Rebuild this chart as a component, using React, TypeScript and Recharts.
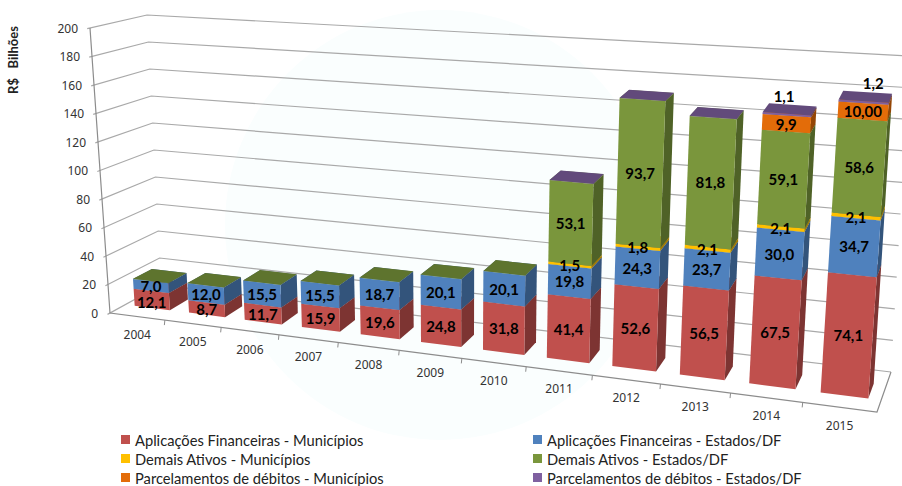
import React from 'react';
import { BarChart, Bar, XAxis, YAxis, Legend, LabelList, Customized } from 'recharts';

const years = ['2004', '2005', '2006', '2007', '2008', '2009', '2010', '2011', '2012', '2013', '2014', '2015'];
const aplicMunicipios = [12.1, 8.7, 11.7, 15.9, 19.6, 24.8, 31.8, 41.4, 52.6, 56.5, 67.5, 74.1];
const aplicEstados = [7.0, 12.0, 15.5, 15.5, 18.7, 20.1, 20.1, 19.8, 24.3, 23.7, 30.0, 34.7];
const demaisMunicipios = [0, 0, 0, 0, 0, 0, 0, 1.5, 1.8, 2.1, 2.1, 2.1];
const demaisEstados = [0.1, 0.1, 0.1, 0.1, 0.1, 0.1, 0.1, 53.1, 93.7, 81.8, 59.1, 58.6];
const parcMunicipios = [0, 0, 0, 0, 0, 0, 0, 0, 0, 0, 9.9, 10.0];
const parcEstados = [0, 0, 0, 0, 0, 0, 0, 0.1, 0.1, 0.1, 1.1, 1.2];
const yTicks = [0, 20, 40, 60, 80, 100, 120, 140, 160, 180, 200];

const chartData = years.map((ano, i) => ({
  ano,
  aplicMunicipios: aplicMunicipios[i],
  aplicEstados: aplicEstados[i],
  demaisMunicipios: demaisMunicipios[i],
  demaisEstados: demaisEstados[i],
  parcMunicipios: parcMunicipios[i],
  parcEstados: parcEstados[i],
}));

// the flat plot rect that recharts works in, unfolded to the 3D box below
const PLOT = { left: 100, top: 60, width: 700, height: 300 };
const AXIS_SIZE = 20;
const GRID = '#a9a9a9';
const FRONT = 0.3;
const BACK = 0.67;

const warp = (u: number) => u / (1.18 - 0.18 * u);
const mix = (a: number[], b: number[], t: number) => [a[0] + (b[0] - a[0]) * t, a[1] + (b[1] - a[1]) * t];

// s along the years, v up the value axis, w into the depth
const project = (u: number, v: number, w: number) => {
  const s = warp(u);
  const front = mix(mix([110, 313], [877, 412], s), mix([90, 28], [902, 79], s), v);
  const back = mix(mix([161, 285], [891, 372], s), mix([147, 15], [910, 56], s), v);
  return mix(front, back, w);
};
const toU = (x: number) => (x - PLOT.left) / PLOT.width;
const toV = (y: number) => 1 - (y - PLOT.top) / PLOT.height;
const pts = (list: number[][]) => list.map((p) => `${p[0].toFixed(1)},${p[1].toFixed(1)}`).join(' ');

const shade = (hex: string, k: number) => {
  const n = parseInt(hex.slice(1), 16);
  const c = [(n >> 16) & 255, (n >> 8) & 255, n & 255].map((x) => Math.round(x * k));
  return `rgb(${c[0]},${c[1]},${c[2]})`;
};

const Box3D = (props: any) => {
  const { x, y, width, height, fill } = props;
  if (!height || height <= 0) return null;
  const u0 = toU(x);
  const u1 = toU(x + width);
  const v0 = toV(y + height);
  const v1 = toV(y);
  return (
    <g>
      <polygon points={pts([project(u1, v0, FRONT), project(u1, v0, BACK), project(u1, v1, BACK), project(u1, v1, FRONT)])} fill={shade(fill, 0.65)} />
      <polygon points={pts([project(u0, v1, FRONT), project(u1, v1, FRONT), project(u1, v1, BACK), project(u0, v1, BACK)])} fill={shade(fill, 0.77)} />
      <polygon points={pts([project(u0, v0, FRONT), project(u1, v0, FRONT), project(u1, v1, FRONT), project(u0, v1, FRONT)])} fill={fill} />
    </g>
  );
};

const formatValue = (value: number) => (value === 10 ? '10,00' : value.toFixed(1).replace('.', ','));

// hand placed labels in the original
const labelNudge: Record<string, number[]> = {
  'aplicMunicipios-0': [0, 3],
  'parcEstados-10': [-8, 1],
  'parcEstados-11': [6, 1],
};

const makeLabel = (key: string) => (props: any) => {
  const { x, y, width, height, value, index } = props;
  if (!value || value < 0.5) return null;
  const above = key === 'parcEstados';
  const uc = toU(x + width / 2);
  const p = above
    ? project(uc, toV(y), (FRONT + BACK) / 2 + 0.15)
    : project(uc, toV(y + height / 2), FRONT);
  const nudge = labelNudge[`${key}-${index}`] || [0, 0];
  return (
    <text x={p[0] + nudge[0]} y={(above ? p[1] - 11 : p[1]) + nudge[1]} textAnchor="middle" dominantBaseline="central" fontFamily="Lato" fontWeight="bold" fontSize={15} fill="#000">
      {formatValue(value)}
    </text>
  );
};

const Walls = () => (
  <g fill="none" stroke={GRID} strokeWidth={1.2}>
    <circle cx={440} cy={225} r={215} fill="#fafefe" stroke="none" />
    {yTicks.map((t) => {
      const v = t / 200;
      return <polyline key={t} points={pts([mix(project(0, v, 0), project(0, v, 1), -0.05), project(0, v, 1), project(1, v, 1)])} />;
    })}
    <polyline points={pts([project(0, 1, 0), project(0, 0, 0), project(1, 0, 0), project(1, 0, 1)])} stroke="#8c8c8c" />
    <text transform="translate(18,60) rotate(-90)" textAnchor="middle" fontFamily="Lato" fontWeight="bold" fontSize={13} fill="#222" stroke="none" style={{ whiteSpace: 'pre' }}>
      {'R$   Bilhões'}
    </text>
  </g>
);

const YTick = (props: any) => {
  const p = project(0, toV(props.y), 0);
  return (
    <text x={p[0] - 12} y={p[1]} textAnchor="end" dominantBaseline="central" fontFamily="Noto Sans" fontSize={12} fill="#333">
      {props.payload.value}
    </text>
  );
};

const XTick = (props: any) => {
  const step = PLOT.width / years.length;
  const u = toU(props.x);
  const p = project(u, 0, 0);
  const mark = project(toU(props.x + step / 2), 0, 0);
  return (
    <g>
      {props.index < years.length - 1 && <line x1={mark[0]} y1={mark[1]} x2={mark[0] - 0.5} y2={mark[1] + 5} stroke="#8c8c8c" />}
      <text x={p[0]} y={p[1] + 18} textAnchor="middle" dominantBaseline="central" fontFamily="Noto Sans" fontSize={12} fill="#333">
        {props.payload.value}
      </text>
    </g>
  );
};

const renderLegend = ({ payload }: any) => (
  <div style={{ display: 'grid', gridTemplateColumns: '412px 360px', paddingLeft: 121, rowGap: 0 }}>
    {(payload || []).map((item: any) => (
      <div key={item.value} style={{ display: 'flex', alignItems: 'center', height: 19, fontFamily: 'Lato', fontSize: 14.7, color: '#222' }}>
        <span style={{ width: 9, height: 9, background: item.color, marginRight: 5 }} />
        {item.value}
      </div>
    ))}
  </div>
);

const series = [
  { key: 'aplicMunicipios', name: 'Aplicações Financeiras - Municípios', fill: '#C0504D' },
  { key: 'aplicEstados', name: 'Aplicações Financeiras - Estados/DF', fill: '#4F81BD' },
  { key: 'demaisMunicipios', name: 'Demais Ativos - Municípios', fill: '#FFC000' },
  { key: 'demaisEstados', name: 'Demais Ativos - Estados/DF', fill: '#7A963C' },
  { key: 'parcMunicipios', name: 'Parcelamentos de débitos - Municípios', fill: '#E36C09' },
  { key: 'parcEstados', name: 'Parcelamentos de débitos - Estados/DF', fill: '#7F60A0' },
];

const App = () => (
  <div style={{ position: 'absolute', left: 0, top: 0 }}>
    <BarChart
      width={902}
      height={486}
      data={chartData}
      barCategoryGap="17.5%"
      margin={{
        top: PLOT.top,
        left: PLOT.left - AXIS_SIZE,
        right: 902 - PLOT.left - PLOT.width,
        bottom: 486 - PLOT.top - PLOT.height - AXIS_SIZE,
      }}
    >
      <Customized component={Walls} />
      <XAxis dataKey="ano" height={AXIS_SIZE} interval={0} axisLine={false} tickLine={false} tick={<XTick />} />
      <YAxis width={AXIS_SIZE} domain={[0, 200]} ticks={yTicks} interval={0} axisLine={false} tickLine={false} tick={<YTick />} />
      <Legend layout="horizontal" verticalAlign="middle" itemSorter={null} content={renderLegend} wrapperStyle={{ left: 0, top: 430, width: 902 }} />
      {series.map((s) => (
        <Bar key={s.key} dataKey={s.key} name={s.name} stackId="a" fill={s.fill} shape={<Box3D />} isAnimationActive={false}>
          <LabelList dataKey={s.key} content={makeLabel(s.key)} />
        </Bar>
      ))}
    </BarChart>
  </div>
);

export default App;
